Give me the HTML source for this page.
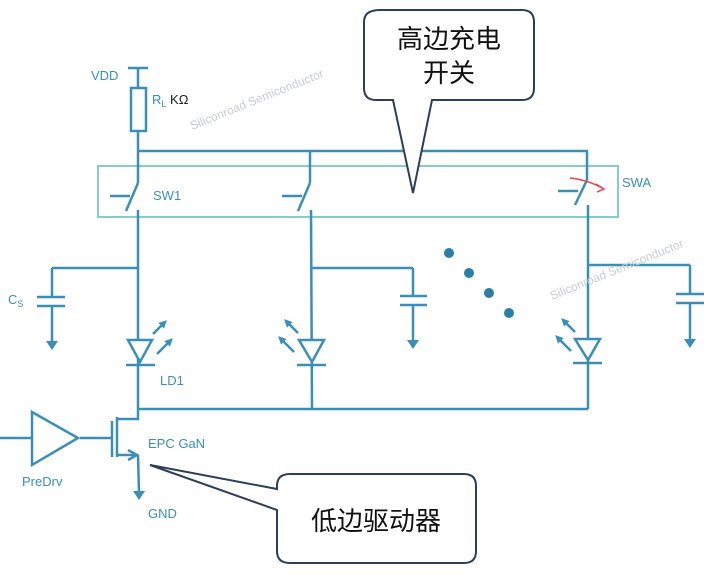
<!DOCTYPE html>
<html><head><meta charset="utf-8"><style>
html,body{margin:0;padding:0;background:#fff;}
svg{display:block;}
text{font-family:"Liberation Sans","Noto Sans CJK SC",sans-serif;}
</style></head><body>
<svg width="711" height="579" viewBox="0 0 711 579" xmlns="http://www.w3.org/2000/svg">
<defs>
<marker id="ah" markerWidth="8" markerHeight="8" refX="4" refY="4" orient="auto" markerUnits="userSpaceOnUse"><path d="M0,0 L8,4 L0,8 z" fill="#3a8fb7"/></marker>
</defs>
<rect x="98" y="166" width="520" height="51" fill="none" stroke="#86cccc" stroke-width="2"/>
<g stroke="#3a8fb7" stroke-width="2.5" fill="none">
<!-- VDD -->
<line x1="128" y1="68" x2="148" y2="68"/>
<line x1="138" y1="68" x2="138" y2="88"/>
<rect x="131" y="88" width="15" height="43"/>
<line x1="138" y1="131" x2="138" y2="183"/>
<line x1="138" y1="151" x2="588" y2="151"/>
<!-- SW1 -->
<line x1="138" y1="183" x2="126" y2="211"/>
<line x1="110" y1="196" x2="130" y2="196"/>
<line x1="138" y1="210" x2="138" y2="409"/>
<!-- SW2 -->
<line x1="310" y1="151" x2="310" y2="183"/>
<line x1="310" y1="183" x2="298" y2="211"/>
<line x1="282" y1="196" x2="302" y2="196"/>
<line x1="311" y1="210" x2="312" y2="409"/>
<!-- SWA -->
<line x1="587" y1="151" x2="587" y2="180"/>
<line x1="587" y1="180" x2="575" y2="205"/>
<line x1="558" y1="191" x2="578" y2="191"/>
<line x1="588" y1="205" x2="588" y2="409"/>
<!-- Cs -->
<line x1="52" y1="268" x2="138" y2="268"/>
<line x1="52" y1="268" x2="52" y2="297"/>
<line x1="37" y1="297" x2="65" y2="297"/>
<line x1="37" y1="306" x2="65" y2="306"/>
<line x1="52" y1="306" x2="52" y2="343"/>
<!-- cap2 -->
<line x1="311" y1="268" x2="413" y2="268"/>
<line x1="413" y1="268" x2="413" y2="296"/>
<line x1="400" y1="296" x2="427" y2="296"/>
<line x1="400" y1="305" x2="427" y2="305"/>
<line x1="413" y1="305" x2="413" y2="342"/>
<!-- cap3 -->
<line x1="588" y1="265" x2="690" y2="265"/>
<line x1="690" y1="265" x2="690" y2="294"/>
<line x1="676" y1="294" x2="704" y2="294"/>
<line x1="676" y1="303" x2="704" y2="303"/>
<line x1="690" y1="303" x2="690" y2="341"/>
<!-- LEDs -->
<path d="M128,340 L152,340 L140,362 z" fill="#fff"/>
<line x1="126" y1="365" x2="155" y2="365"/>
<path d="M299,340 L324,340 L312,362 z" fill="#fff"/>
<line x1="297" y1="365" x2="326" y2="365"/>
<path d="M575,339 L600,339 L588,360 z" fill="#fff"/>
<line x1="573" y1="363" x2="602" y2="363"/>
<line x1="153" y1="334" x2="164" y2="323" marker-end="url(#ah)"/>
<line x1="157" y1="354" x2="170" y2="341" marker-end="url(#ah)"/>
<line x1="298" y1="333" x2="287" y2="322" marker-end="url(#ah)"/>
<line x1="294" y1="352" x2="281" y2="339" marker-end="url(#ah)"/>
<line x1="575" y1="332" x2="564" y2="321" marker-end="url(#ah)"/>
<line x1="571" y1="351" x2="558" y2="338" marker-end="url(#ah)"/>
<!-- bottom bus -->
<line x1="138" y1="409" x2="588" y2="409"/>
<!-- MOSFET -->
<polyline points="138,409 138,419 117,419"/>
<line x1="117" y1="417" x2="117" y2="457"/>
<line x1="112" y1="421" x2="112" y2="457"/>
<line x1="80" y1="438" x2="112" y2="438"/>
<polyline points="117,455 138,455"/>
<polyline points="128,450 137,455 128,460"/>
<line x1="138" y1="455" x2="139" y2="493"/>
<path d="M32,412 L32,465 L78,438 z" fill="#fff"/>
<line x1="0" y1="438" x2="32" y2="438"/>
</g>
<g fill="#3a8fb7">
<path d="M46,341 L58,341 L52,350 z"/><path d="M407,340 L419,340 L413,349 z"/><path d="M684,339 L696,339 L690,348 z"/><path d="M133,491 L145,491 L139,500 z"/>
</g>
<g fill="#2a7fa6"><circle cx="449" cy="253" r="5"/><circle cx="469" cy="273" r="5"/><circle cx="489" cy="293" r="5"/><circle cx="509" cy="313" r="5"/></g>
<path d="M570,178 Q588,180 602,188" stroke="#e8474e" stroke-width="1.5" fill="none"/>
<path d="M596,184 L604,189 L597,192" stroke="#e8474e" stroke-width="1.5" fill="none"/>
<g fill="#3a8fb7" font-size="13">
<text x="91" y="80">VDD</text>
<text x="152" y="104">R<tspan font-size="9" dy="3">L</tspan><tspan dy="-3" fill="#222"> KΩ</tspan></text>
<text x="153" y="200">SW1</text>
<text x="622" y="187">SWA</text>
<text x="8" y="304">C<tspan font-size="9" dy="3">S</tspan></text>
<text x="160" y="385">LD1</text>
<text x="148" y="448">EPC GaN</text>
<text x="22" y="486">PreDrv</text>
<text x="148" y="518">GND</text>
</g>
<g fill="#c8ccd2" font-size="12">
<text transform="translate(192,130) rotate(-22)">Siliconroad Semiconductor</text>
<text transform="translate(552,300) rotate(-22)">Siliconroad Semiconductor</text>
</g>
<!-- callouts -->
<path d="M380,10 L522,10 Q534,10 534,22 L534,88 Q534,100 522,100 L432,100 L413,193 L393,100 L376,100 Q364,100 364,88 L364,22 Q364,10 380,10 z" fill="#fff" stroke="#2c3e5c" stroke-width="2"/>
<text x="449" y="48" font-size="26" text-anchor="middle" fill="#111">高边充电</text>
<text x="449" y="82" font-size="26" text-anchor="middle" fill="#111">开关</text>
<path d="M290,474 L464,474 Q476,474 476,486 L476,551 Q476,563 464,563 L290,563 Q277,563 277,551 L277,510 L150,465 L277,489 L277,486 Q277,474 290,474 z" fill="#fff" stroke="#2c3e5c" stroke-width="2"/>
<text x="376" y="530" font-size="26" text-anchor="middle" fill="#111">低边驱动器</text>
</svg>
</body></html>
